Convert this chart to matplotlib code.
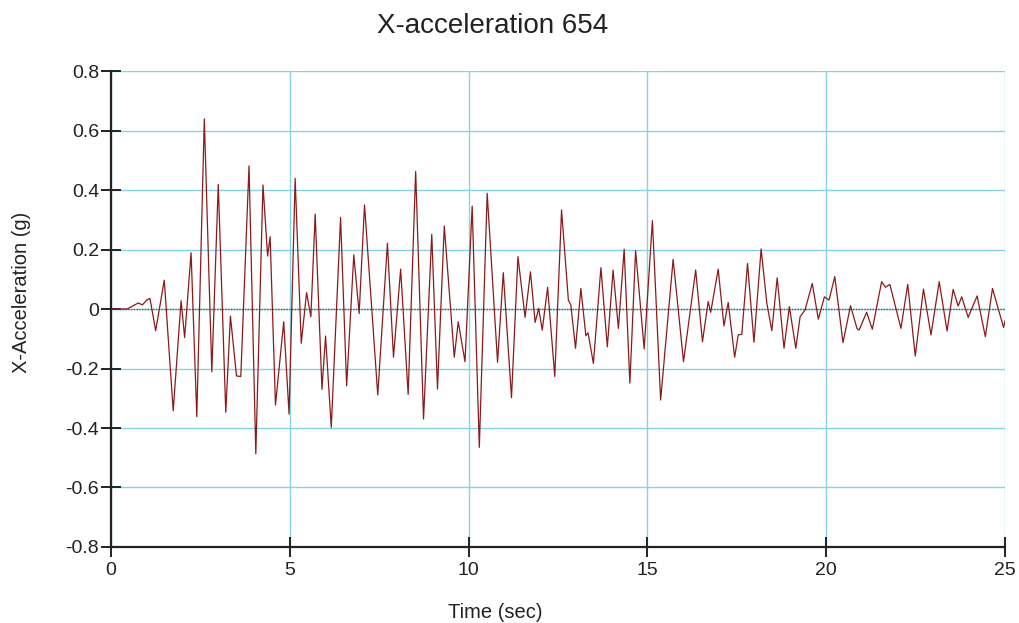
import matplotlib
matplotlib.use("Agg")
import matplotlib.pyplot as plt

plt.rcParams['font.family'] = ['Liberation Sans', 'DejaVu Sans']

# Ground-motion record: time (s) and x-acceleration (g) at turning points
time_s = [0.00, 0.45, 0.76, 0.88, 1.00, 1.09, 1.25, 1.49, 1.74, 1.96, 2.06, 2.24,
          2.40, 2.61, 2.82, 3.00, 3.21, 3.34, 3.51, 3.63, 3.86, 4.05, 4.25, 4.38,
          4.45, 4.60, 4.83, 4.98, 5.15, 5.32, 5.47, 5.59, 5.71, 5.90, 6.00, 6.16,
          6.42, 6.59, 6.79, 6.94, 7.09, 7.46, 7.73, 7.90, 8.10, 8.31, 8.52, 8.74,
          8.97, 9.13, 9.32, 9.60, 9.71, 9.90, 10.10, 10.30, 10.52, 10.81, 10.97,
          11.20, 11.38, 11.58, 11.73, 11.86, 11.96, 12.06, 12.21, 12.41, 12.60,
          12.79, 12.86, 12.99, 13.14, 13.28, 13.34, 13.49, 13.70, 13.88, 14.04,
          14.19, 14.35, 14.51, 14.67, 14.91, 15.14, 15.37, 15.72, 16.01, 16.35,
          16.54, 16.70, 16.77, 16.98, 17.14, 17.26, 17.44, 17.54, 17.64, 17.80,
          17.98, 18.18, 18.34, 18.48, 18.63, 18.82, 18.97, 19.15, 19.27, 19.41,
          19.61, 19.78, 19.95, 20.08, 20.24, 20.47, 20.68, 20.86, 20.92, 21.13,
          21.29, 21.55, 21.66, 21.78, 22.09, 22.28, 22.49, 22.72, 22.93, 23.16,
          23.38, 23.55, 23.69, 23.79, 23.97, 24.22, 24.45, 24.65, 24.96, 25.00]
accel_g = [0.000, 0.000, 0.020, 0.014, 0.030, 0.036, -0.073, 0.097, -0.342, 0.028,
           -0.096, 0.189, -0.362, 0.639, -0.211, 0.419, -0.347, -0.024, -0.225,
           -0.227, 0.481, -0.487, 0.417, 0.178, 0.243, -0.323, -0.043, -0.353,
           0.439, -0.115, 0.055, -0.026, 0.319, -0.270, -0.091, -0.398, 0.308,
           -0.258, 0.182, -0.015, 0.350, -0.289, 0.221, -0.162, 0.134, -0.287,
           0.462, -0.370, 0.251, -0.269, 0.279, -0.162, -0.043, -0.177, 0.346,
           -0.465, 0.389, -0.179, 0.122, -0.298, 0.176, -0.028, 0.125, -0.045,
           0.002, -0.071, 0.073, -0.227, 0.333, 0.030, 0.013, -0.132, 0.069,
           -0.090, -0.080, -0.183, 0.139, -0.127, 0.131, -0.065, 0.201, -0.249,
           0.196, -0.134, 0.297, -0.306, 0.167, -0.177, 0.131, -0.110, 0.025,
           -0.011, 0.134, -0.057, 0.022, -0.162, -0.087, -0.085, 0.153, -0.112,
           0.202, 0.019, -0.073, 0.105, -0.132, 0.008, -0.132, -0.026, -0.003,
           0.086, -0.034, 0.041, 0.030, 0.109, -0.113, 0.011, -0.065, -0.071,
           -0.011, -0.068, 0.092, 0.073, 0.083, -0.065, 0.083, -0.158, 0.067,
           -0.087, 0.092, -0.074, 0.066, 0.010, 0.041, -0.028, 0.044, -0.093,
           0.069, -0.062, -0.040]

x_ticks = [0, 5, 10, 15, 20, 25]
y_ticks = [-0.8, -0.6, -0.4, -0.2, 0, 0.2, 0.4, 0.6, 0.8]
y_labels = ["-0.8", "-0.6", "-0.4", "-0.2", "0", "0.2", "0.4", "0.6", "0.8"]

fig = plt.figure(figsize=(10.2, 6.23), dpi=100)
ax = fig.add_axes([0.1088, 0.122, 0.8765, 0.764])

grid_color = "#85d3e3"
text_color = "#222222"
ax.set_xlim(0, 25)
ax.set_ylim(-0.8, 0.8)
ax.set_xticks(x_ticks)
ax.set_yticks(y_ticks)
ax.set_yticklabels(y_labels)
ax.grid(True, color=grid_color, linewidth=1.0)
ax.set_axisbelow(True)

ax.axhline(0, color="#4a5a60", linestyle=(0, (1, 1)), linewidth=1.0, zorder=1.5)
ax.plot(time_s, accel_g, color="#8b1a1a", linewidth=0.9, zorder=2)

for side in ("top", "right"):
    ax.spines[side].set_visible(False)
for side in ("left", "bottom"):
    ax.spines[side].set_linewidth(1.6)
    ax.spines[side].set_color(text_color)
    ax.spines[side].set_zorder(3)

ax.tick_params(axis="both", direction="inout", length=15, width=1.4,
               color=text_color, labelsize=14, labelcolor=text_color)
ax.tick_params(axis="y", pad=1)
ax.tick_params(axis="x", pad=3)

fig.text(0.483, 0.947, "X-acceleration 654", fontsize=20, color=text_color,
         ha="center", va="baseline")
fig.text(0.486, 0.008, "Time (sec)", fontsize=14.5, color=text_color,
         ha="center", va="baseline")
fig.text(0.0206, 0.531, "X-Acceleration (g)", fontsize=14.5, color=text_color,
         ha="center", va="center", rotation=90)

fig.savefig("out.png", dpi=100)
